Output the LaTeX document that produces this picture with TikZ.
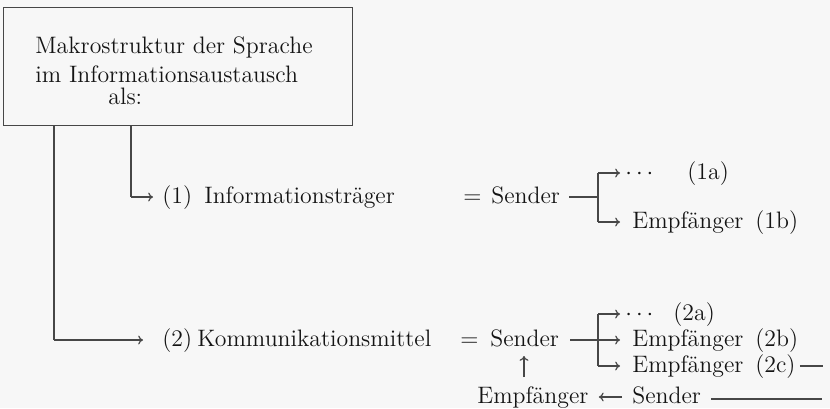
\documentclass[tikz,border=0pt]{standalone}
\usetikzlibrary{calc}
\usetikzlibrary{arrows.meta}
\tikzset{
    entry/.style={inner sep=0pt, anchor=base west, text=black!92, font=\fontsize{11.9}{14.5}\selectfont},
    rule/.style={line width=0.6pt, draw=black!72},
    pointer/.style={rule, -{To[length=2.4pt, width=4.4pt]}}
}

\begin{document}
\begin{tikzpicture}[x=0.5pt, y=-0.5pt]
            \useasboundingbox[fill=black!3] (0, 0) rectangle (830, 408);
            \node[rule, draw, inner sep=0pt, minimum width=174.5pt, minimum height=59pt, anchor=north west] (BOX) at (3, 7) {};
            \node[entry] (TITLE 1) at (35, 53) {Makrostruktur der Sprache};
            \node[entry] (TITLE 2) at (35, 82) {im Informationsaustausch};
            \node[entry] (TITLE 3) at (108, 104) {als:};
            \node[entry] (NUM 1) at (162, 203) {(1)};
            \node[entry] (INFO) at (204, 203) {Informationsträger};
            \node[entry] (EQ 1) at (463, 203) {=};
            \node[entry] (SENDER 1) at (491, 203) {Sender};
            \node[entry] (DOTS 1) at (625, 179) {\(\cdots\)};
            \node[entry] (TAG 1a) at (687, 179) {(1a)};
            \node[entry] (EMPF 1b) at (632, 228) {Empfänger\enspace(1b)};
            \node[entry] (NUM 2) at (162, 346) {(2)};
            \node[entry] (KOMM) at (197, 346) {Kommunikationsmittel};
            \node[entry] (EQ 2) at (460, 346) {=};
            \node[entry] (SENDER 2) at (490, 346) {Sender};
            \node[entry] (DOTS 2) at (625, 320) {\(\cdots\)};
            \node[entry] (TAG 2a) at (673, 320) {(2a)};
            \node[entry] (EMPF 2b) at (632, 346) {Empfänger\enspace(2b)};
            \node[entry] (EMPF 2c) at (632, 372) {Empfänger\enspace(2c)};
            \node[entry] (EMPF back) at (477, 403) {Empfänger};
            \node[entry] (SENDER back) at (632, 403) {Sender};
            \coordinate (left top) at ($(BOX.south west) + (51, 0)$);
            \coordinate (right top) at ($(BOX.south west) + (128, 0)$);
            \coordinate (left bend) at (left top |- 0, 340);
            \coordinate (right bend) at (right top |- 0, 197);
            \coordinate (fork 1) at ($(SENDER 1.base east) + (9, -6)$);
            \coordinate (fork 2) at ($(SENDER 2.base east) + (11, -6)$);
            \coordinate (bar 1) at (598, 197);
            \coordinate (bar 1 top) at (598, 173);
            \coordinate (bar 1 bottom) at (598, 222);
            \coordinate (bar 2) at (598, 340);
            \coordinate (bar 2 top) at (598, 314);
            \coordinate (bar 2 bottom) at (598, 366);
            \coordinate (loop out) at (823, 366);
            \coordinate (loop in) at (822, 399);
            \draw[rule] (left top) -- (left bend);
            \draw[rule] (right top) -- (right bend);
            \draw[pointer] (right bend) -- ($(NUM 1.base west) + (-9, -6)$);
            \draw[pointer] (left bend) -- ($(NUM 2.base west) + (-19, -6)$);
            \draw[rule] (fork 1) -- (bar 1);
            \draw[rule] (bar 1 top) -- (bar 1 bottom);
            \draw[pointer] (bar 1 top) -- ($(bar 1 top) + (22, 0)$);
            \draw[pointer] (bar 1 bottom) -- ($(bar 1 bottom) + (22, 0)$);
            \draw[rule] (fork 2) -- (bar 2);
            \draw[rule] (bar 2 top) -- (bar 2 bottom);
            \draw[pointer] (bar 2 top) -- ($(bar 2 top) + (22, 0)$);
            \draw[pointer] (bar 2) -- ($(bar 2) + (22, 0)$);
            \draw[pointer] (bar 2 bottom) -- ($(bar 2 bottom) + (22, 0)$);
            \draw[rule] ($(EMPF 2c.base east) + (4, -6)$) -- (loop out);
            \draw[rule] ($(SENDER back.base east) + (10, -4)$) -- (loop in);
            \draw[pointer] ($(SENDER back.base west) + (-10, -6)$) -- ($(EMPF back.base east) + (10, -6)$);
            \draw[pointer] (524, 377) -- (524, 356);
\end{tikzpicture}
\end{document}
